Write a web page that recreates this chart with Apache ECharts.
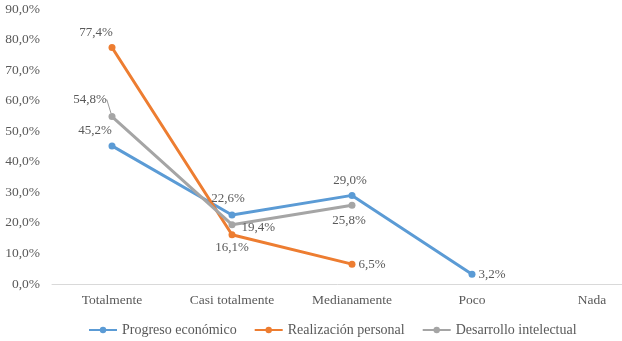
<!DOCTYPE html>
<html>
<head>
<meta charset="utf-8">
<script src="https://cdn.jsdelivr.net/npm/echarts@6/dist/echarts.min.js"></script>
<style>
  html, body { margin: 0; padding: 0; background: #fff; }
  #chart { width: 622px; height: 341px; }
</style>
</head>
<body>
<div id="chart"></div>
<script>
// datos
var categorias = ['Totalmente', 'Casi totalmente', 'Medianamente', 'Poco', 'Nada'];
var progresoEconomico = [45.2, 22.6, 29.0, 3.2, null];
var realizacionPersonal = [77.4, 16.1, 6.5, null, null];
var desarrolloIntelectual = [54.8, 19.4, 25.8, null, null];
var ticksY = [0, 10, 20, 30, 40, 50, 60, 70, 80, 90];

var fuente = 'Liberation Serif';
var gris = '#595959';

function fmt(v) {
    return v.toFixed(1).replace('.', ',') + '%';
}

// posicion de cada etiqueta: [position, desplazamiento, con linea guia]
function etiquetas(valores, pos) {
    return valores.map(function (v, i) {
        if (v === null) return null;
        var p = pos[i];
        var item = { value: v, label: { position: p[0] } };
        if (p[2]) {
            item.labelLine = { show: true, lineStyle: { color: '#7f7f7f', width: 0.8 } };
        }
        return item;
    });
}

function serie(nombre, color, valores, pos) {
    return {
        name: nombre,
        type: 'line',
        data: etiquetas(valores, pos),
        symbol: 'circle',
        symbolSize: 7,
        lineStyle: { color: color, width: 3 },
        itemStyle: { color: color },
        label: {
            show: true,
            color: gris,
            fontFamily: fuente,
            fontSize: 13,
            formatter: function (p) { return fmt(p.value); }
        },
        labelLayout: function (params) {
            var p = pos[params.dataIndex];
            if (!p) return {};
            return { dx: p[1][0], dy: p[1][1] };
        }
    };
}

var option = {
    animation: false,
    backgroundColor: '#fff',
    grid: { left: 52, top: 9, bottom: 57, width: 600, outerBoundsMode: 'none' },
    legend: {
        bottom: 4,
        left: 88,
        padding: 0,
        itemWidth: 28,
        itemHeight: 8,
        itemGap: 17,
        textStyle: { color: gris, fontFamily: fuente, fontSize: 14 },
        data: ['Progreso económico', 'Realización personal', 'Desarrollo intelectual']
    },
    xAxis: {
        type: 'category',
        data: categorias,
        boundaryGap: true,
        axisLine: { lineStyle: { color: '#d9d9d9', width: 1 } },
        axisTick: { show: false },
        axisLabel: { color: gris, fontFamily: fuente, fontSize: 13.5, margin: 9 }
    },
    yAxis: {
        type: 'value',
        min: ticksY[0],
        max: ticksY[ticksY.length - 1],
        interval: 10,
        splitLine: { show: false },
        axisLine: { show: false },
        axisTick: { show: false },
        axisLabel: {
            color: gris, fontFamily: fuente, fontSize: 13.5, margin: 12,
            formatter: function (v) { return fmt(v); }
        }
    },
    series: [
        serie('Progreso económico', '#5B9BD5', progresoEconomico,
            [['top', [-17, 0]], ['top', [-4, -1]], ['top', [-2, 0]], ['right', [-2, 0]], null]),
        serie('Realización personal', '#ED7D31', realizacionPersonal,
            [['top', [-16, 0]], ['bottom', [0, -2]], ['right', [-2, 0]], null, null]),
        serie('Desarrollo intelectual', '#A5A5A5', desarrolloIntelectual,
            [['top', [-22, -2], true], ['right', [1, 3]], ['bottom', [-3, 0]], null, null])
    ]
};

var grafico = echarts.init(document.getElementById('chart'));
grafico.setOption(option);
</script>
</body>
</html>
